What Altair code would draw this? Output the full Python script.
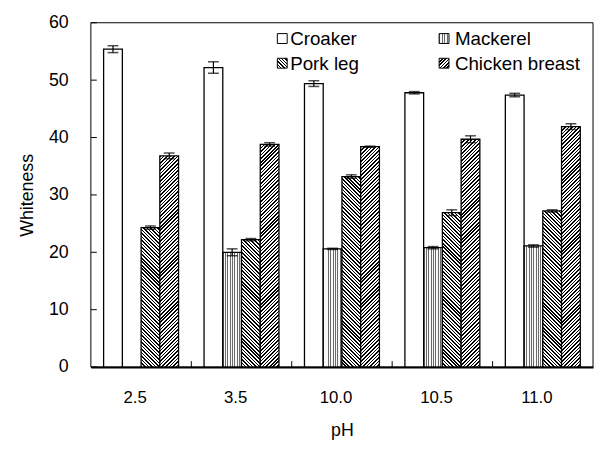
import altair as alt

# ---------------- data ----------------
ph_labels = ["2.5", "3.5", "10.0", "10.5", "11.0"]
series_names = ["Croaker", "Mackerel", "Pork leg", "Chicken breast"]

croaker = [55.4, 52.2, 49.4, 47.8, 47.4]
croaker_err = [0.6, 1.0, 0.5, 0.2, 0.3]
mackerel = [None, 20.0, 20.6, 20.8, 21.1]
mackerel_err = [None, 0.6, 0.1, 0.2, 0.2]
pork = [24.3, 22.2, 33.2, 26.9, 27.2]
pork_err = [0.3, 0.2, 0.3, 0.5, 0.2]
chicken = [36.8, 38.8, 38.4, 39.7, 41.9]
chicken_err = [0.5, 0.3, 0.1, 0.6, 0.5]

y_ticks = [0, 10, 20, 30, 40, 50, 60]

# ---------------- layout ----------------
W, H = 509, 349
Y_MAX = 60
PAD_OUT = 0.68
bar_w = W / len(ph_labels) / (len(series_names) + 2 * PAD_OUT)
FONT = "Liberation Sans"


def stripe_stops(n, frac, color, bg="white"):
    stops = []
    n = max(1, int(n))
    for i in range(n):
        a = round(i / n, 5)
        b = round((i + frac) / n, 5)
        c = round((i + 1) / n, 5)
        stops += [
            {"offset": a, "color": color},
            {"offset": b, "color": color},
            {"offset": b, "color": bg},
            {"offset": c, "color": bg},
        ]
    return stops


def pattern(kind, w, h):
    if kind == "white":
        return "white"
    if kind == "vertical":
        return {"gradient": "linear", "x1": 0, "y1": 0, "x2": 1, "y2": 0,
                "stops": stripe_stops(round(w / 2.4), 0.4, "#6a6a6a", "#f8f8f8")}
    r = h / w
    k = (1 + r) / (1 + r * r)
    n = round((w + h) / 3.6)
    if kind == "fwd":   # "/" hatch
        return {"gradient": "linear", "x1": 0, "y1": 0, "x2": k, "y2": k * r,
                "stops": stripe_stops(n, 0.45, "black")}
    # "\" hatch
    return {"gradient": "linear", "x1": 0, "y1": 1, "x2": k, "y2": 1 - k * r,
            "stops": stripe_stops(n, 0.45, "black")}


kinds = {"Croaker": "white", "Mackerel": "vertical", "Pork leg": "back", "Chicken breast": "fwd"}
vals = {"Croaker": (croaker, croaker_err), "Mackerel": (mackerel, mackerel_err),
        "Pork leg": (pork, pork_err), "Chicken breast": (chicken, chicken_err)}

bar_rows = []
for s in series_names:
    v_list, e_list = vals[s]
    for i, p in enumerate(ph_labels):
        v, e = v_list[i], e_list[i]
        if v is None:
            continue
        h = v / Y_MAX * H
        bar_rows.append({"pH": p, "series": s, "value": v, "lo": v - e, "hi": v + e,
                         "grad": pattern(kinds[s], bar_w, h)})

x_scale = alt.Scale(domain=ph_labels, paddingInner=0, paddingOuter=0)
x_axis = alt.Axis(title="pH", labelAngle=0, labelFontSize=17, labelPadding=23, labelOffset=-6,
                  ticks=False, domain=True, domainColor="black", domainWidth=2,
                  titleFontSize=18, titlePadding=16, titleFontWeight="normal",
                  labelColor="black", titleColor="black", labelFont=FONT,
                  titleFont=FONT, grid=False)


def x_enc(band_pos=None):
    if band_pos is None:
        return alt.X("pH:N", sort=ph_labels, scale=x_scale, axis=x_axis)
    return alt.X("pH:N", sort=ph_labels, scale=x_scale, axis=x_axis, bandPosition=band_pos)


xoff_enc = alt.XOffset("series:N", sort=series_names,
                       scale=alt.Scale(domain=series_names, paddingInner=0, paddingOuter=PAD_OUT))
y_scale = alt.Scale(domain=[0, Y_MAX], nice=False, zero=True)
y_axis = alt.Axis(title="Whiteness", values=y_ticks, ticks=False, domain=False, grid=False,
                  labelFontSize=18, labelPadding=23, titleFontSize=18, titlePadding=12,
                  titleFontWeight="normal", labelColor="black", titleColor="black",
                  labelFont=FONT, titleFont=FONT)

bar_data = alt.Data(values=bar_rows)

bars = alt.Chart(bar_data).mark_bar(stroke="black", strokeWidth=1.3).encode(
    x=x_enc(),
    xOffset=xoff_enc,
    y=alt.Y("value:Q", scale=y_scale, axis=y_axis, stack=None),
    fill=alt.Fill("grad:N", scale=None, legend=None),
)

err_rule = alt.Chart(bar_data).mark_rule(color="black", strokeWidth=1.2).encode(
    x=x_enc(), xOffset=xoff_enc,
    y=alt.Y("lo:Q", scale=y_scale, axis=y_axis), y2="hi:Q",
)
err_top = alt.Chart(bar_data).mark_tick(color="black", size=11, thickness=1.5, orient="horizontal").encode(
    x=x_enc(), xOffset=xoff_enc, y=alt.Y("hi:Q", scale=y_scale, axis=y_axis),
)
err_bot = alt.Chart(bar_data).mark_tick(color="black", size=11, thickness=1.5, orient="horizontal").encode(
    x=x_enc(), xOffset=xoff_enc, y=alt.Y("lo:Q", scale=y_scale, axis=y_axis),
)

# inward ticks
ytick_layer = alt.Chart(alt.Data(values=[{"t": t} for t in y_ticks])).mark_rule(
    color="black", strokeWidth=1).encode(
    y=alt.Y("t:Q", scale=y_scale, axis=y_axis), x=alt.value(0), x2=alt.value(6))

xtick_layer = alt.Chart(alt.Data(values=[{"pH": p} for p in ph_labels[1:]])).mark_rule(
    color="black", strokeWidth=1).encode(
    x=x_enc(0), y=alt.value(H), y2=alt.value(H - 6))

# frame around the plot area
frame = alt.Chart(alt.Data(values=[{"f": 1}])).mark_rect(
    fill=None, stroke="black", strokeWidth=1).encode(
    x=alt.value(0), x2=alt.value(W), y=alt.value(0), y2=alt.value(H))

# custom 2x2 legend
leg_rows = []
for i, s in enumerate(series_names):
    col, row = i % 2, i // 2
    leg_rows.append({"name": s, "lx": 194 + col * 164, "tx": 202 + col * 167,
                     "ly": 16 + row * 25, "grad": pattern(kinds[s], 10, 10)})
leg_data = alt.Data(values=leg_rows)
leg_sq = alt.Chart(leg_data).mark_square(size=100, stroke="black", strokeWidth=1, opacity=1).encode(
    x=alt.X("lx:Q", scale=None), y=alt.Y("ly:Q", scale=None),
    fill=alt.Fill("grad:N", scale=None, legend=None))
leg_tx = alt.Chart(leg_data).mark_text(align="left", baseline="middle", fontSize=19, font=FONT,
                                        color="black", dy=1).encode(
    x=alt.X("tx:Q", scale=None), y=alt.Y("ly:Q", scale=None),
    text="name:N")

chart = alt.layer(bars, err_rule, err_top, err_bot, ytick_layer, xtick_layer, frame,
                  leg_sq, leg_tx).properties(
    width=W, height=H,
    padding={"left": 84, "top": 12, "right": 2, "bottom": 73},
    autosize=alt.AutoSizeParams(type="none"),
    background="white",
).configure_view(stroke=None)

chart.save("out.html", embed_options={"renderer": "svg", "actions": False})
